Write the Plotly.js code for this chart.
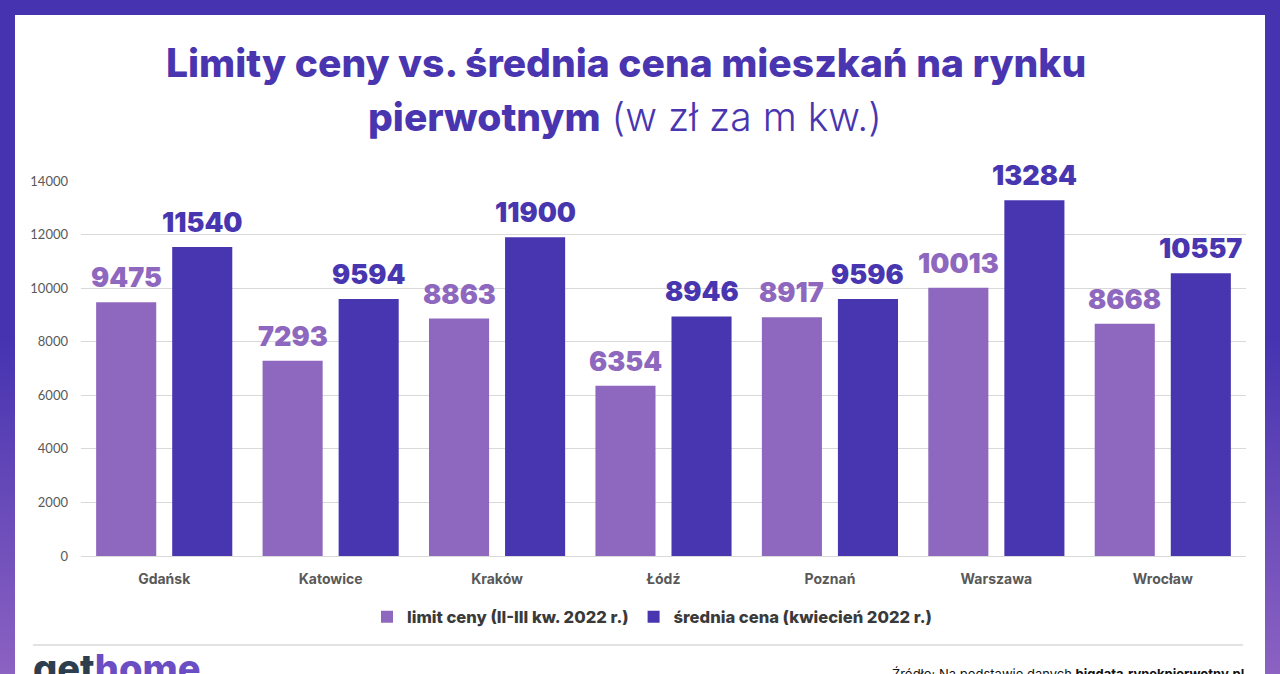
<!DOCTYPE html>
<html>
<head>
<meta charset="utf-8">
<script src="https://cdn.plot.ly/plotly-3.0.1.min.js"></script>
<style>
  html, body { margin:0; padding:0; }
  #wrap { position:relative; width:1280px; height:674px; overflow:hidden;
          background: linear-gradient(to bottom, #4533B0 0%, #4533B0 50%, #8C62C2 100%); }
  #inner { position:absolute; left:15px; top:15px; width:1250px; height:659px; background:#ffffff; }
  #chart { position:absolute; left:0; top:0; width:1280px; height:674px; }
</style>
</head>
<body>
<div id="wrap"><div id="inner"></div><div id="chart"></div></div>
<script>
const categories = ['Gdańsk','Katowice','Kraków','Łódź','Poznań','Warszawa','Wrocław'];
const limitCeny = [9475, 7293, 8863, 6354, 8917, 10013, 8668];
const sredniaCena = [11540, 9594, 11900, 8946, 9596, 13284, 10557];
const seriesNames = ['limit ceny (II-III kw. 2022 r.)', 'średnia cena (kwiecień 2022 r.)'];
const yTicks = [0, 2000, 4000, 6000, 8000, 10000, 12000, 14000];

const LIGHT = '#8E68BE', DARK = '#4836B0', TITLE = '#4A35B0';
const W = 1280, H = 674, L = 81, R = 1246, T = 181, B = 556;
const px = x => (x - L) / (R - L);
const py = y => (B - y) / (B - T);

const traces = [
  { type:'bar', name:seriesNames[0], x:categories, y:limitCeny, marker:{color:LIGHT}, hoverinfo:'x+y' },
  { type:'bar', name:seriesNames[1], x:categories, y:sredniaCena, marker:{color:DARK}, hoverinfo:'x+y' }
];

const annotations = [];
const labelFont = { family:'Inter, sans-serif', size:27, weight:900 };
categories.forEach((c, i) => {
  annotations.push({ x:c, y:limitCeny[i], xref:'x', yref:'y', text:String(limitCeny[i]), showarrow:false,
    xshift:-38, yshift:6, yanchor:'bottom', font:Object.assign({color:LIGHT}, labelFont) });
  annotations.push({ x:c, y:sredniaCena[i], xref:'x', yref:'y', text:String(sredniaCena[i]), showarrow:false,
    xshift:38, yshift:6, yanchor:'bottom', font:Object.assign({color:DARK}, labelFont) });
});
annotations.push({ xref:'paper', yref:'paper', x:px(626), y:py(62), xanchor:'center', yanchor:'middle', showarrow:false,
  text:'Limity ceny vs. średnia cena mieszkań na rynku', font:{family:'Inter, sans-serif', size:39, color:TITLE, weight:800} });
annotations.push({ xref:'paper', yref:'paper', x:px(625), y:py(117), xanchor:'center', yanchor:'middle', showarrow:false,
  text:'<span style="font-weight:800">pierwotnym</span> (w zł za m kw.)', font:{family:'Inter, sans-serif', size:39, color:TITLE, weight:300} });
annotations.push({ xref:'paper', yref:'paper', x:px(31), y:py(643), xanchor:'left', yanchor:'top', showarrow:false,
  text:'<span style="color:#2F3E4E">get</span><span style="color:#6B4EC4">home</span>',
  font:{family:'Inter, sans-serif', size:38, weight:800} });
annotations.push({ xref:'paper', yref:'paper', x:px(1246), y:py(664), xanchor:'right', yanchor:'top', showarrow:false,
  text:'Źródło: Na podstawie danych <b>bigdata.rynekpierwotny.pl</b>',
  font:{family:'Inter, sans-serif', size:13, color:'#111111'} });

const layout = {
  width:W, height:H,
  paper_bgcolor:'rgba(0,0,0,0)', plot_bgcolor:'rgba(0,0,0,0)',
  margin:{l:L, r:W-R, t:T, b:H-B, pad:0},
  barmode:'group', bargap:0.086, bargroupgap:0.21,
  showlegend:true,
  legend:{ orientation:'h', xref:'container', yref:'container', x:652/W, y:1-617/H, xanchor:'center', yanchor:'middle',
    font:{family:'Inter, sans-serif', size:16.6, color:'#3A3A3A', weight:800}, itemwidth:30, traceorder:'normal' },
  xaxis:{ type:'category', showgrid:false, zeroline:false, showline:false, ticks:'',
    tickfont:{family:'Inter, sans-serif', size:14, color:'#595959', weight:700}, ticklabelstandoff:13 },
  yaxis:{ range:[0,14000], tickvals:yTicks, ticktext:yTicks.map(String), showgrid:true, gridcolor:'#D9D9D9', gridwidth:1,
    zeroline:true, zerolinecolor:'#D9D9D9', showline:false, ticks:'',
    tickfont:{family:'Lato, sans-serif', size:13, color:'#595959'}, ticklabelstandoff:12 },
  shapes:[ { type:'line', xref:'paper', yref:'paper', x0:px(33), x1:px(1243), y0:py(645), y1:py(645),
    line:{color:'#D9D9D9', width:1.5} } ],
  annotations:annotations,
  hovermode:'closest'
};

Plotly.newPlot('chart', traces, layout, {displayModeBar:false, staticPlot:false});
</script>
</body>
</html>
